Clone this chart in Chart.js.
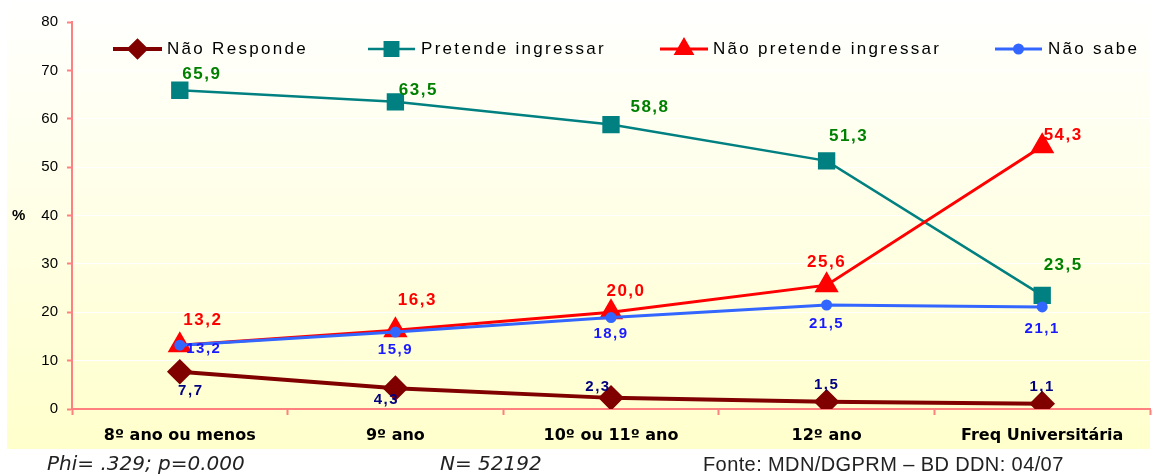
<!DOCTYPE html>
<html>
<head>
<meta charset="utf-8">
<script src="https://cdn.jsdelivr.net/npm/chart.js@4.4.1/dist/chart.umd.min.js"></script>
<style>
  html, body { margin: 0; padding: 0; background: #ffffff; overflow: hidden; }
  #wrap { width: 1153px; height: 475px; position: relative; }
  canvas { display: block; }
</style>
</head>
<body>
<div id="wrap"><canvas id="chart"></canvas></div>
<script>
// dados
const categorias = ['8º ano ou menos', '9º ano', '10º ou 11º ano', '12º ano', 'Freq Universitária'];
const naoResponde = [7.7, 4.3, 2.3, 1.5, 1.1];
const pretendeIngressar = [65.9, 63.5, 58.8, 51.3, 23.5];
const naoPretende = [13.2, 16.3, 20.0, 25.6, 54.3];
const naoSabe = [13.2, 15.9, 18.9, 21.5, 21.1];
const yTicks = [0, 10, 20, 30, 40, 50, 60, 70, 80];

const PINK = '#ff8080';

// deslocamento dos rótulos de valor (em px, relativo ao ponto)
const labelOffsets = {
    0: [[11, 19], [-9, 12], [-13, -11], [0, -17], [0, -17]],
    1: [[22, -16], [23, -12], [39, -17], [22, -25], [21, -30]],
    2: [[23, -25], [22, -30], [15, -21], [0, -23], [21, -11]],
    3: [[24, 4], [0, 18], [0, 16], [0, 19], [0, 22]]
};

// Fundo em degradê (branco -> amarelo claro)
const bgPlugin = {
    id: 'bgPanel',
    beforeDraw(chart) {
        const ctx = chart.ctx;
        const g = ctx.createLinearGradient(0, 0, 0, 449);
        g.addColorStop(0, '#ffffff');
        g.addColorStop(1, '#ffffcc');
        ctx.save();
        ctx.fillStyle = g;
        ctx.fillRect(7, 0, 1143, 449);
        ctx.restore();
    }
};

// Rótulos de valor
const valueLabels = {
    id: 'valueLabels',
    afterDatasetsDraw(chart) {
        const ctx = chart.ctx;
        ctx.save();
        chart.data.datasets.forEach((ds, di) => {
            const meta = chart.getDatasetMeta(di);
            ctx.fillStyle = ds.labelColor;
            ctx.font = ds.labelFont;
            ctx.letterSpacing = '1.5px';
            ctx.textAlign = 'center';
            ctx.textBaseline = 'middle';
            meta.data.forEach((pt, i) => {
                const off = labelOffsets[di][i];
                const txt = ds.data[i].toFixed(1).replace('.', ',');
                ctx.fillText(txt, pt.x + off[0], pt.y + off[1]);
            });
        });
        ctx.restore();
    }
};

// Legenda desenhada à mão (espaçamento como no original)
const legendPos = [
    { x1: 113, x2: 162, tx: 167 },
    { x1: 368, x2: 415, tx: 421 },
    { x1: 660, x2: 708, tx: 713 },
    { x1: 995, x2: 1042, tx: 1048 }
];
const customLegend = {
    id: 'customLegend',
    afterDatasetsDraw(chart) {
        const ctx = chart.ctx;
        const y = 49;
        ctx.save();
        chart.data.datasets.forEach((ds, di) => {
            const p = legendPos[di];
            ctx.strokeStyle = ds.borderColor;
            ctx.lineWidth = ds.borderWidth;
            ctx.beginPath();
            ctx.moveTo(p.x1, y);
            ctx.lineTo(p.x2, y);
            ctx.stroke();
            ctx.fillStyle = ds.pointBackgroundColor;
            ctx.strokeStyle = ds.pointBackgroundColor;
            Chart.helpers.drawPoint(ctx, {
                pointStyle: ds.pointStyle,
                radius: ds.legendRadius,
                borderWidth: 1
            }, (p.x1 + p.x2) / 2, y);
            ctx.fillStyle = '#000000';
            ctx.font = '17px "Liberation Sans", Arial, sans-serif';
            ctx.letterSpacing = '2.3px';
            ctx.textAlign = 'left';
            ctx.textBaseline = 'middle';
            ctx.fillText(ds.label, p.tx, y);
        });
        ctx.restore();
    }
};

// Textos extra: "%" e rodapé
const extraText = {
    id: 'extraText',
    afterDraw(chart) {
        const ctx = chart.ctx;
        ctx.save();
        ctx.fillStyle = '#000000';
        ctx.textBaseline = 'middle';
        ctx.textAlign = 'left';
        ctx.font = 'bold 15px "Liberation Sans", Arial, sans-serif';
        ctx.fillText('%', 12, 216);
        ctx.fillStyle = '#222222';
        ctx.font = 'italic 20px "DejaVu Sans", sans-serif';
        ctx.fillText('Phi= .329; p=0.000', 47, 465);
        ctx.fillText('N= 52192', 440, 465);
        ctx.font = '20px "Liberation Sans", Arial, sans-serif';
        ctx.letterSpacing = '0.4px';
        ctx.fillText('Fonte: MDN/DGPRM – BD DDN: 04/07', 703, 465);
        ctx.restore();
    }
};

new Chart(document.getElementById('chart'), {
    type: 'line',
    data: {
        labels: categorias,
        datasets: [
            {
                label: 'Não Responde', data: naoResponde,
                borderColor: '#800000', backgroundColor: '#800000',
                pointBackgroundColor: '#800000', pointBorderColor: '#800000',
                borderWidth: 4, pointStyle: 'rectRot', pointRadius: 10, legendRadius: 8,
                labelColor: '#000080', labelFont: 'bold 15px "Liberation Sans", Arial, sans-serif',
                order: 3
            },
            {
                label: 'Pretende ingressar', data: pretendeIngressar,
                borderColor: '#008080', backgroundColor: '#008080',
                pointBackgroundColor: '#008080', pointBorderColor: '#008080',
                borderWidth: 2.5, pointStyle: 'rect', pointRadius: 10.5, legendRadius: 9.5,
                labelColor: '#008000', labelFont: 'bold 17px "Liberation Sans", Arial, sans-serif',
                order: 2
            },
            {
                label: 'Não pretende ingressar', data: naoPretende,
                borderColor: '#ff0000', backgroundColor: '#ff0000',
                pointBackgroundColor: '#ff0000', pointBorderColor: '#ff0000',
                borderWidth: 3, pointStyle: 'triangle', pointRadius: 11, legendRadius: 9,
                labelColor: '#ff0000', labelFont: 'bold 17px "Liberation Sans", Arial, sans-serif',
                order: 1
            },
            {
                label: 'Não sabe', data: naoSabe,
                borderColor: '#3366ff', backgroundColor: '#3366ff',
                pointBackgroundColor: '#3366ff', pointBorderColor: '#3366ff',
                borderWidth: 3, pointStyle: 'circle', pointRadius: 4, legendRadius: 4,
                labelColor: '#1a1aff', labelFont: 'bold 15px "Liberation Sans", Arial, sans-serif',
                order: 0
            }
        ]
    },
    options: {
        responsive: true, maintainAspectRatio: false, animation: false,
        layout: { autoPadding: false, padding: { left: 0, top: 22, right: 3, bottom: 26 } },
        plugins: { legend: { display: false }, tooltip: { enabled: false } },
        elements: { line: { tension: 0 }, point: { borderWidth: 1, hoverRadius: 10 } },
        scales: {
            y: {
                min: 0, max: 80,
                afterFit: (s) => { s.width = 72; s.paddingTop = 0; s.paddingBottom = 0; },
                afterBuildTicks: (s) => { s.ticks = yTicks.map(v => ({ value: v })); },
                grid: { color: '#ffffff', lineWidth: 1, tickColor: PINK, tickLength: 5, tickWidth: 2 },
                border: { color: PINK, width: 2 },
                ticks: { color: '#000000', padding: 9, font: { family: '"Liberation Sans", Arial, sans-serif', size: 15 } }
            },
            x: {
                offset: true,
                afterFit: (s) => { s.height = 40; s.paddingLeft = 0; s.paddingRight = 0; },
                grid: { offset: true, drawOnChartArea: false, tickColor: PINK, tickLength: 6, tickWidth: 2 },
                border: { color: PINK, width: 2 },
                ticks: { color: '#000000', padding: 11, maxRotation: 0,
                    font: { family: '"DejaVu Sans", sans-serif', size: 16, weight: 'bold' } }
            }
        }
    },
    plugins: [bgPlugin, valueLabels, customLegend, extraText]
});
</script>
</body>
</html>
